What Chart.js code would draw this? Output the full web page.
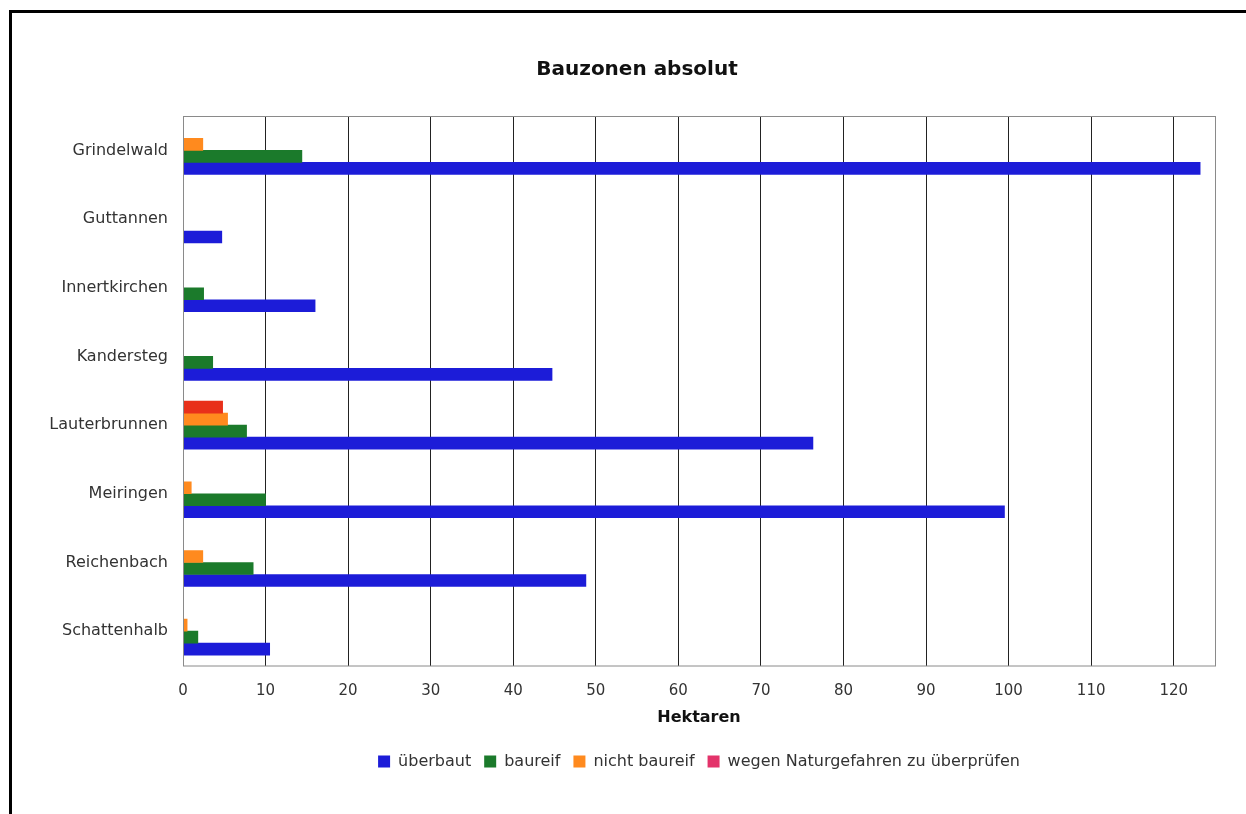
<!DOCTYPE html>
<html lang="de">
<head>
  <meta charset="UTF-8">
  <title>Bauzonen absolut</title>
  <script src="https://cdn.jsdelivr.net/npm/chart.js"></script>
  <style>
    body { margin: 0; background: #fff; font-family: "DejaVu Sans", sans-serif; }
    .frame { position: absolute; left: 9px; top: 10px; width: 1400px; height: 900px; border-top: 3px solid #000; border-left: 3px solid #000; }
    .wrap { position: absolute; left: 0; top: 0; width: 1246px; height: 814px; }
  </style>
</head>
<body>
  <div class="frame"></div>
  <div class="wrap"><canvas id="chartBauzonen" width="1246" height="814"></canvas></div>

  <script>
    // Gemeinden und Flächen in Hektaren
    const gemeinden = ['Grindelwald', 'Guttannen', 'Innertkirchen', 'Kandersteg', 'Lauterbrunnen', 'Meiringen', 'Reichenbach', 'Schattenhalb'];
    const ueberbaut = [123.2, 4.7, 16.0, 44.7, 76.3, 99.5, 48.8, 10.5];
    const baureif = [14.4, 0, 2.5, 3.6, 7.7, 10.0, 8.5, 1.8];
    const nichtBaureif = [2.4, 0, 0, 0, 5.4, 1.0, 2.4, 0.5];
    const naturgefahren = [0, 0, 0, 0, 4.8, 0, 0, 0];
    const xTicks = [0, 10, 20, 30, 40, 50, 60, 70, 80, 90, 100, 110, 120];

    const font = '"DejaVu Sans", sans-serif';
    const titel = 'Bauzonen absolut';

    // Rahmen um die Zeichenfläche und Titel (etwas links der Mitte)
    const plotFrame = {
      id: 'plotFrame',
      afterDraw(chart) {
        const { ctx, chartArea: a } = chart;
        ctx.save();
        ctx.strokeStyle = '#8a8a8a';
        ctx.lineWidth = 1;
        ctx.strokeRect(a.left + 0.5, a.top + 0.5, a.right - a.left, a.bottom - a.top);
        ctx.fillStyle = '#111';
        ctx.font = 'bold 20px ' + font;
        ctx.textAlign = 'center';
        ctx.textBaseline = 'middle';
        ctx.fillText(titel, 637, 70);
        ctx.restore();
      }
    };

    // Reihenfolge umgekehrt, damit "überbaut" unten in jeder Gruppe liegt
    new Chart(document.getElementById('chartBauzonen'), {
      type: 'bar',
      data: {
        labels: gemeinden,
        datasets: [
          { label: 'wegen Naturgefahren zu überprüfen', data: naturgefahren, backgroundColor: '#e8301a', legendColor: '#e3336a' },
          { label: 'nicht baureif', data: nichtBaureif, backgroundColor: '#ff8a1e' },
          { label: 'baureif', data: baureif, backgroundColor: '#1b7a2b' },
          { label: 'überbaut', data: ueberbaut, backgroundColor: '#1c1cd8' }
        ]
      },
      options: {
        indexAxis: 'y',
        responsive: false,
        animation: false,
        barThickness: 12,
        layout: { padding: { left: 30, right: 31, top: 116, bottom: 34.5 } },
        plugins: {
          title: { display: false },
          legend: {
            position: 'bottom',
            fullSize: false,
            reverse: true,
            labels: {
              color: '#333',
              font: { family: font, size: 16 },
              boxWidth: 12,
              boxHeight: 12,
              padding: 13,
              generateLabels(chart) {
                const items = Chart.defaults.plugins.legend.labels.generateLabels(chart);
                items.forEach(it => {
                  const ds = chart.data.datasets[it.datasetIndex];
                  if (ds.legendColor) it.fillStyle = ds.legendColor;
                  it.lineWidth = 0;
                });
                return items;
              }
            }
          },
          tooltip: { enabled: false }
        },
        scales: {
          x: {
            min: 0,
            max: 125,
            afterBuildTicks(scale) { scale.ticks = xTicks.map(v => ({ value: v })); },
            afterFit(scale) { scale.height = 75; },
            grid: { color: '#222', lineWidth: 1, drawTicks: false },
            border: { display: false },
            ticks: { color: '#333', font: { family: font, size: 15 }, padding: 17 },
            title: {
              display: true,
              text: 'Hektaren',
              color: '#111',
              font: { family: font, size: 16, weight: 'bold' },
              padding: { top: 0, bottom: 13 }
            }
          },
          y: {
            grid: { display: false, drawTicks: false },
            border: { display: true, color: '#666', width: 1 },
            ticks: { color: '#333', font: { family: font, size: 16 }, padding: 15 },
            afterFit(scale) { scale.width = 153; }
          }
        }
      },
      plugins: [plotFrame]
    });
  </script>
</body>
</html>
